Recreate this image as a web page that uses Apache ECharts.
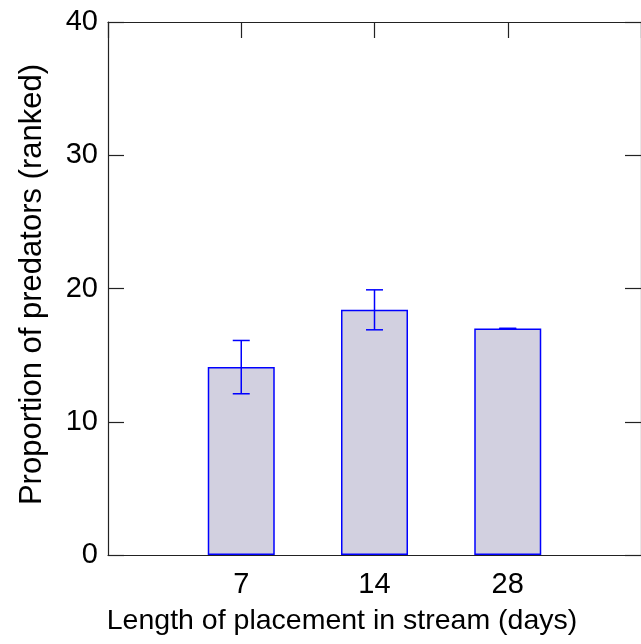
<!DOCTYPE html>
<html>
<head>
<meta charset="utf-8">
<script src="https://cdn.jsdelivr.net/npm/echarts@6/dist/echarts.min.js"></script>
<style>
html, body { margin: 0; padding: 0; background: #fff; overflow: hidden; }
#echarts { width: 641px; height: 644px; }
</style>
</head>
<body>
<div id="echarts"></div>
<script>
var categories = ['7', '14', '28'];
var means = [14.1, 18.4, 17.0];
var errors = [2.0, 1.5, 0];

var font = "'Liberation Sans', Arial, sans-serif";
var myChart = echarts.init(document.getElementById('echarts'));

// bars sit at x = 1, 2, 3 on a 0..4 value axis
var barData = means.map(function (v, i) { return [i + 1, v]; });
var errData = means.map(function (v, i) { return [i + 1, v - errors[i], v + errors[i]]; });

function errorBar(params, api) {
    var lo = api.coord([api.value(0), api.value(1)]);
    var hi = api.coord([api.value(0), api.value(2)]);
    var w = 8.5;
    var style = { stroke: '#0000ff', lineWidth: 1.5 };
    return {
        type: 'group',
        children: [
            { type: 'line', shape: { x1: lo[0], y1: lo[1], x2: hi[0], y2: hi[1] }, style: style },
            { type: 'line', shape: { x1: lo[0] - w, y1: lo[1], x2: lo[0] + w, y2: lo[1] }, style: style },
            { type: 'line', shape: { x1: hi[0] - w, y1: hi[1], x2: hi[0] + w, y2: hi[1] }, style: style }
        ]
    };
}

var axisLine = { show: true, onZero: false, lineStyle: { color: '#222', width: 1.2 } };
var innerTick = { show: true, inside: true, length: 16, lineStyle: { color: '#222', width: 1.2 } };

option = {
    animation: false,
    backgroundColor: '#fff',
    grid: { left: 108, right: 0, top: 22, bottom: 89, containLabel: false, outerBoundsMode: 'none' },
    xAxis: [
        {
            type: 'value', min: 0, max: 4, interval: 1, position: 'bottom',
            z: 10,
            axisLine: axisLine,
            axisTick: { show: false },
            splitLine: { show: false },
            axisLabel: {
                fontSize: 29, fontFamily: font, color: '#000', margin: 15,
                formatter: function (v) { return categories[v - 1] || ''; }
            },
            name: 'Length of placement in stream (days)',
            nameLocation: 'middle',
            nameGap: 51.5,
            nameTextStyle: { fontSize: 28.5, fontFamily: font, color: '#000', padding: [0, 65, 0, 0] }
        },
        {
            type: 'value', min: 0, max: 4, interval: 1, position: 'top',
            axisLine: axisLine,
            axisTick: innerTick,
            axisLabel: { show: false },
            splitLine: { show: false }
        }
    ],
    yAxis: [
        {
            type: 'value', min: 0, max: 40, interval: 10, position: 'left',
            axisLine: axisLine,
            axisTick: innerTick,
            splitLine: { show: false },
            axisLabel: { fontSize: 29, fontFamily: font, color: '#000', margin: 10 },
            name: 'Proportion of predators (ranked)',
            nameLocation: 'middle',
            nameGap: 60,
            nameTextStyle: { fontSize: 31, fontFamily: font, color: '#000', padding: [0, 0, 0, 8] }
        },
        {
            type: 'value', min: 0, max: 40, interval: 10, position: 'right',
            axisLine: axisLine,
            axisTick: innerTick,
            axisLabel: { show: false },
            splitLine: { show: false }
        }
    ],
    series: [
        {
            type: 'bar',
            xAxisIndex: 0, yAxisIndex: 0,
            barWidth: 67,
            itemStyle: { color: '#d2d0e0', borderColor: '#0000ff', borderWidth: 1.5 },
            data: barData
        },
        {
            type: 'custom',
            xAxisIndex: 0, yAxisIndex: 0,
            renderItem: errorBar,
            encode: { x: 0, y: [1, 2] },
            z: 5,
            data: errData
        }
    ]
};

myChart.setOption(option);
</script>
</body>
</html>
